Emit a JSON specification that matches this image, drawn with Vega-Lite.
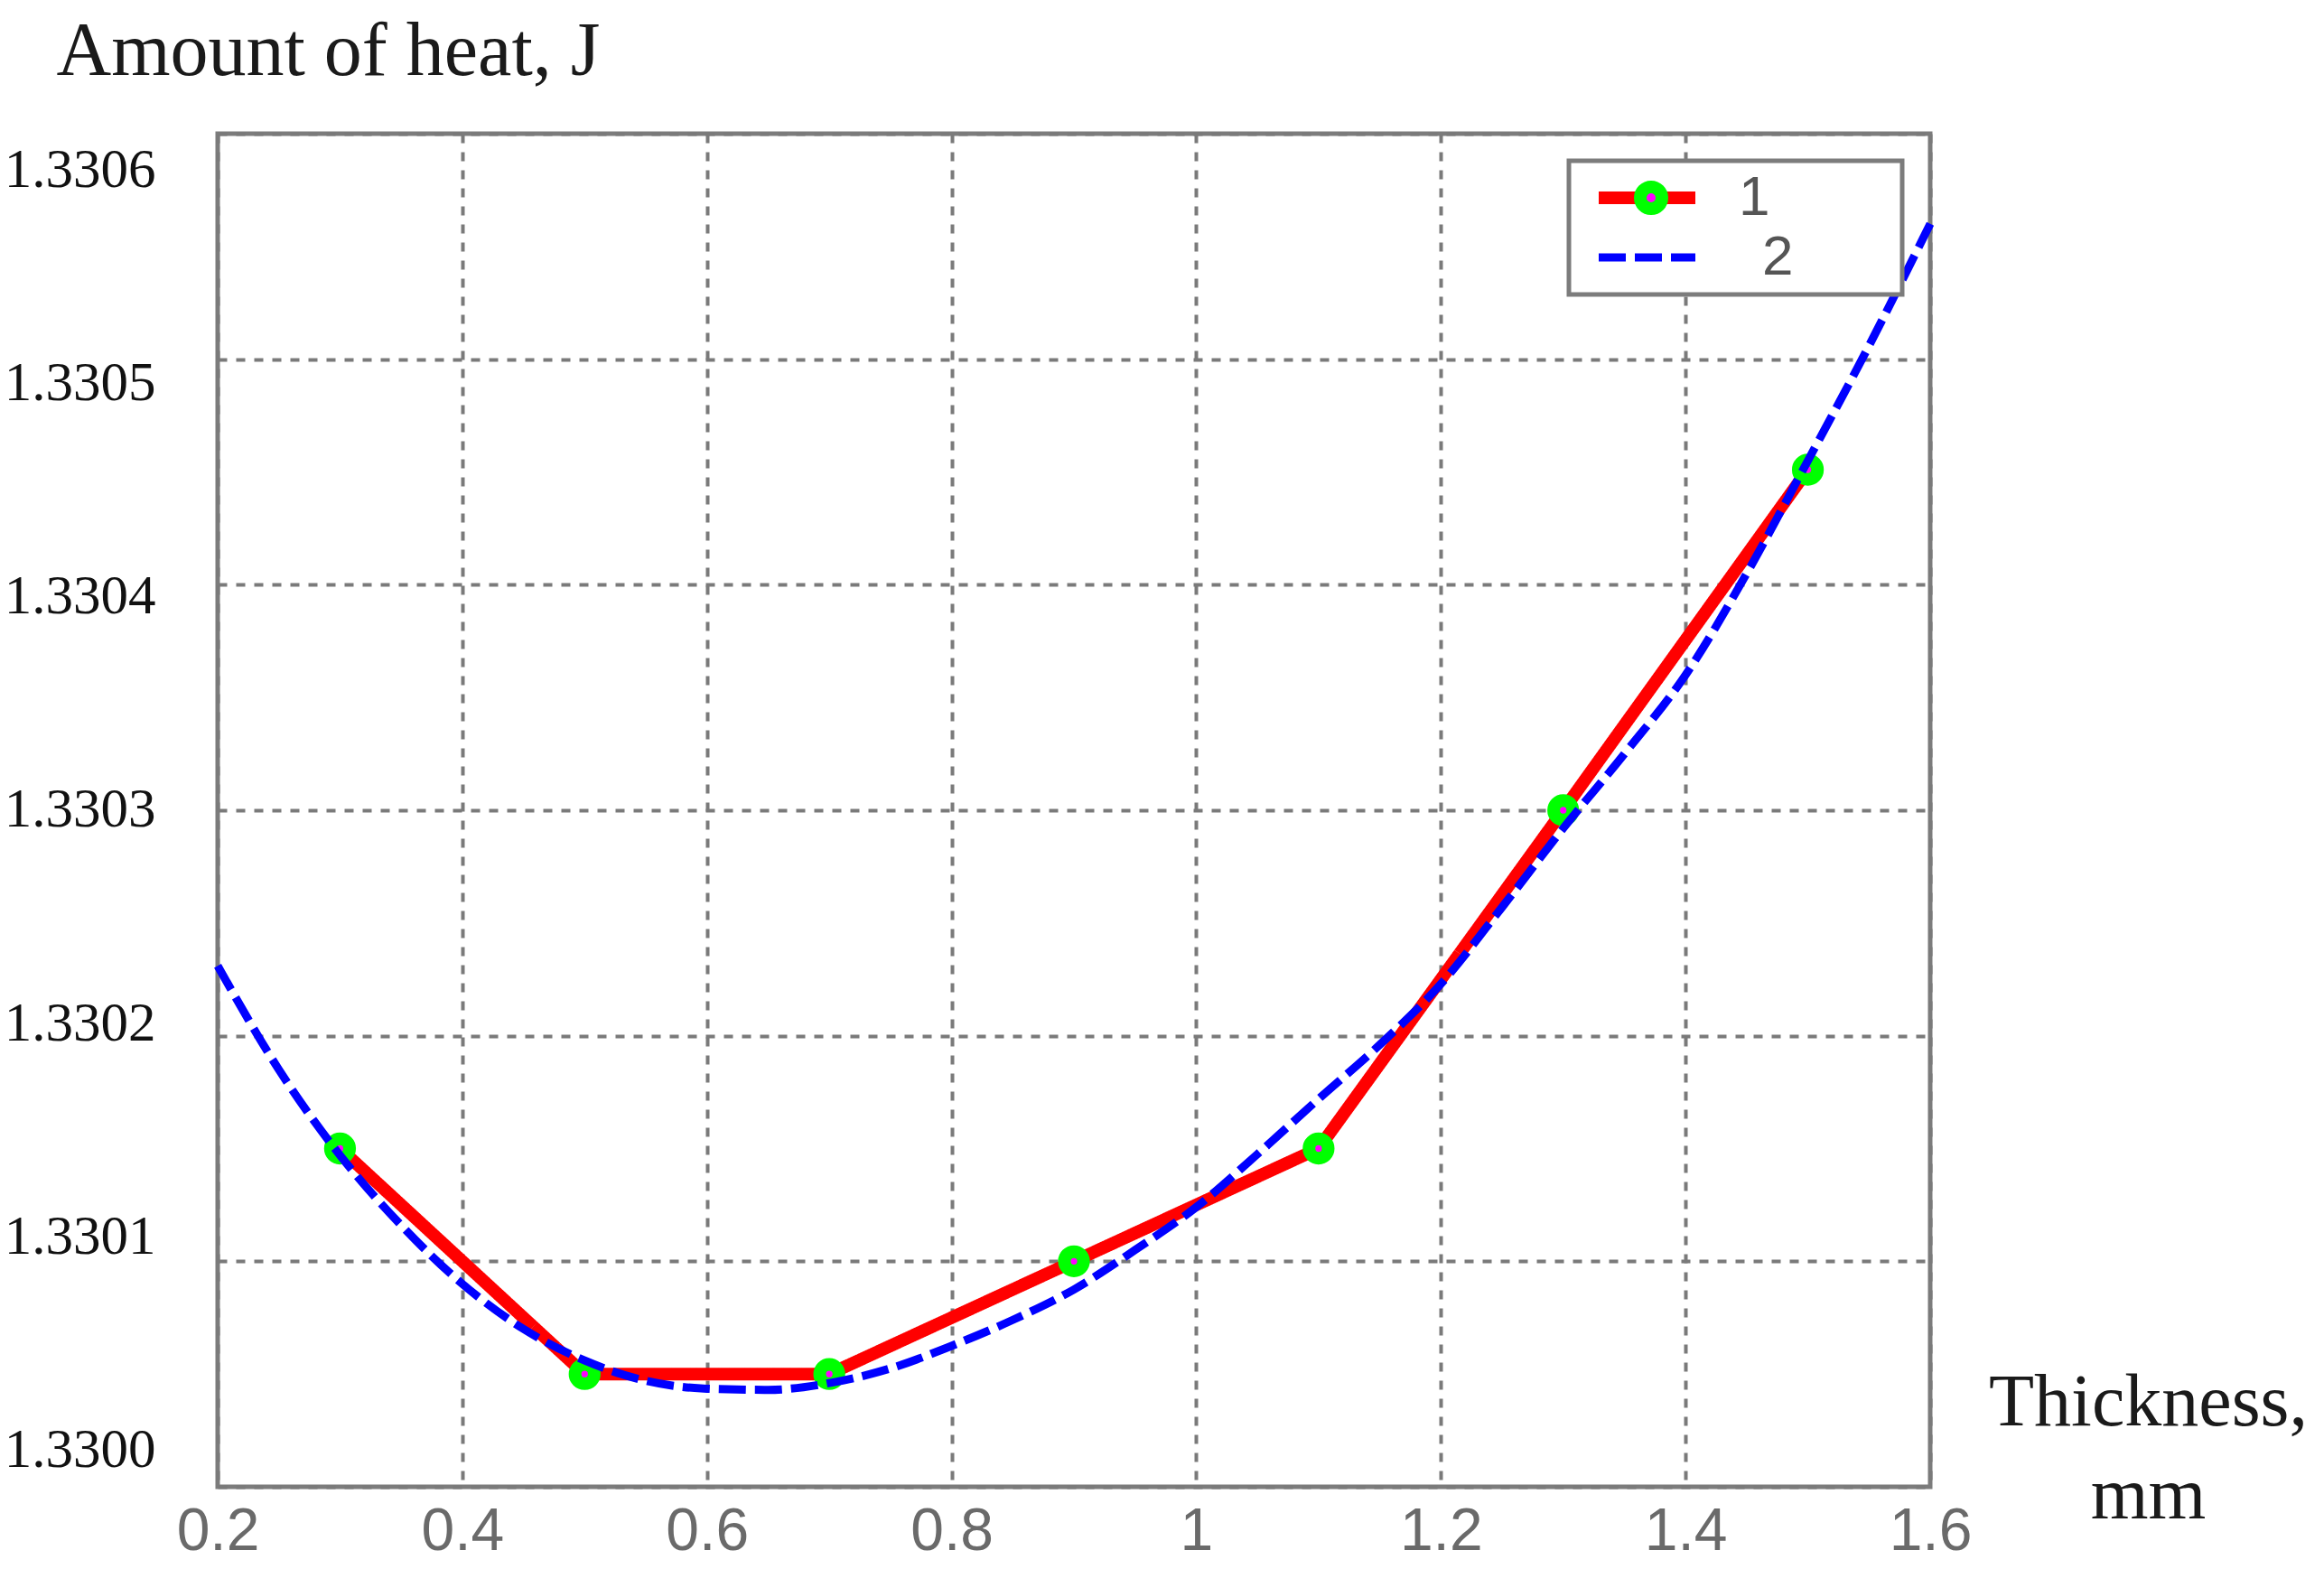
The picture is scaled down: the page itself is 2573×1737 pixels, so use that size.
{
  "$schema": "https://vega.github.io/schema/vega-lite/v6.json",
  "width": 1896,
  "height": 1498,
  "autosize": {"type": "none"},
  "padding": {"left": 241, "top": 148, "right": 436, "bottom": 91},
  "background": "white",
  "config": {
    "view": {"stroke": "#7c7c7c", "strokeWidth": 5}
  },
  "data": {
    "values": [
      {"x": 0.3, "y": 1.33015, "series": "1"},
      {"x": 0.5, "y": 1.33005, "series": "1"},
      {"x": 0.7, "y": 1.33005, "series": "1"},
      {"x": 0.9, "y": 1.3301, "series": "1"},
      {"x": 1.1, "y": 1.33015, "series": "1"},
      {"x": 1.3, "y": 1.3303, "series": "1"},
      {"x": 1.5, "y": 1.330451, "series": "1"},
      {"x": 0.2, "y": 1.330231, "series": "2"},
      {"x": 0.25, "y": 1.330185, "series": "2"},
      {"x": 0.3, "y": 1.330147, "series": "2"},
      {"x": 0.35, "y": 1.330116, "series": "2"},
      {"x": 0.4, "y": 1.33009, "series": "2"},
      {"x": 0.45, "y": 1.33007, "series": "2"},
      {"x": 0.5, "y": 1.330056, "series": "2"},
      {"x": 0.55, "y": 1.330047, "series": "2"},
      {"x": 0.6, "y": 1.3300435, "series": "2"},
      {"x": 0.65, "y": 1.330043, "series": "2"},
      {"x": 0.7, "y": 1.330046, "series": "2"},
      {"x": 0.75, "y": 1.3300525, "series": "2"},
      {"x": 0.8, "y": 1.3300625, "series": "2"},
      {"x": 0.85, "y": 1.330074, "series": "2"},
      {"x": 0.9, "y": 1.3300875, "series": "2"},
      {"x": 0.95, "y": 1.330105, "series": "2"},
      {"x": 1.0, "y": 1.330124, "series": "2"},
      {"x": 1.05, "y": 1.3301475, "series": "2"},
      {"x": 1.1, "y": 1.330172, "series": "2"},
      {"x": 1.15, "y": 1.330196, "series": "2"},
      {"x": 1.2, "y": 1.330223, "series": "2"},
      {"x": 1.25, "y": 1.330257, "series": "2"},
      {"x": 1.3, "y": 1.330292, "series": "2"},
      {"x": 1.35, "y": 1.330325, "series": "2"},
      {"x": 1.4, "y": 1.33036, "series": "2"},
      {"x": 1.45, "y": 1.330405, "series": "2"},
      {"x": 1.5, "y": 1.330455, "series": "2"},
      {"x": 1.55, "y": 1.330506, "series": "2"},
      {"x": 1.6, "y": 1.33056, "series": "2"}
    ]
  },
  "encoding": {
    "x": {
      "field": "x",
      "type": "quantitative",
      "scale": {"domain": [0.2, 1.6], "nice": false, "zero": false},
      "axis": {
        "values": [0.2, 0.4, 0.6, 0.8, 1, 1.2, 1.4, 1.6],
        "format": "~g",
        "domain": false,
        "ticks": false,
        "tickSize": 0,
        "labelFlush": false,
        "labelOverlap": false,
        "labelPadding": 17,
        "labelFont": "'Liberation Sans Narrow', 'Liberation Sans', sans-serif",
        "labelFontSize": 66,
        "labelColor": "#6a6a6a",
        "grid": true,
        "gridColor": "#7a7a7a",
        "gridWidth": 4,
        "gridDash": [10, 10],
        "title": ["Thickness,", "mm"],
        "titleFont": "Liberation Serif",
        "titleFontSize": 82,
        "titleFontWeight": "normal",
        "titleColor": "#1a1a1a",
        "titleAngle": 0,
        "titleAlign": "center",
        "titleBaseline": "alphabetic",
        "titleLineHeight": 103,
        "titleX": 2137,
        "titleY": -69
      }
    },
    "y": {
      "field": "y",
      "type": "quantitative",
      "scale": {"domain": [1.33, 1.3306], "nice": false, "zero": false},
      "axis": {
        "values": [1.33, 1.3301, 1.3302, 1.3303, 1.3304, 1.3305, 1.3306],
        "format": ".4f",
        "domain": false,
        "ticks": false,
        "tickSize": 0,
        "labelOverlap": false,
        "labelPadding": 69,
        "labelAlign": "right",
        "labelBaseline": "middle",
        "labelOffset": {"expr": "40 - 134000 * (1.3306 - datum.value)"},
        "labelFont": "Liberation Serif",
        "labelFontSize": 61,
        "labelColor": "#111111",
        "grid": true,
        "gridColor": "#7a7a7a",
        "gridWidth": 4,
        "gridDash": [10, 10],
        "title": "Amount of heat, J",
        "titleFont": "Liberation Serif",
        "titleFontSize": 84,
        "titleFontWeight": "normal",
        "titleColor": "#1a1a1a",
        "titleAngle": 0,
        "titleAlign": "left",
        "titleBaseline": "alphabetic",
        "titleX": -179,
        "titleY": -66
      }
    }
  },
  "layer": [
    {
      "transform": [{"filter": "datum.series == '1'"}],
      "mark": {"type": "line", "interpolate": "linear"},
      "encoding": {
        "stroke": {
          "field": "series", "type": "nominal",
          "scale": {"domain": ["1", "2"], "range": ["#ff0000", "#0000ff"]},
          "legend": {"title": null, "orient": "none", "legendX": 1496, "legendY": 30, "zindex": 1, "symbolType": "M-0.8,0H9.9M29,0", "symbolSize": 400, "labelOffset": 116, "padding": 10, "rowPadding": 4, "strokeColor": "#7c7c7c", "fillColor": "white", "labelFontSize": 62, "labelFont": "Liberation Sans", "labelColor": "#555555", "encode": {"legend": {"update": {"strokeWidth": {"value": 5}}}, "labels": {"update": {"dx": {"signal": "datum.value == '2' ? 26 : 0"}}}}}
        },
        "strokeDash": {
          "field": "series", "type": "nominal",
          "scale": {"domain": ["1", "2"], "range": [[1, 0], [30, 10]]},
          "legend": {"title": null, "orient": "none", "legendX": 1496, "legendY": 30, "zindex": 1, "symbolType": "M-0.8,0H9.9M29,0", "symbolSize": 400, "labelOffset": 116, "padding": 10, "rowPadding": 4, "strokeColor": "#7c7c7c", "fillColor": "white", "labelFontSize": 62, "labelFont": "Liberation Sans", "labelColor": "#555555", "encode": {"legend": {"update": {"strokeWidth": {"value": 5}}}, "labels": {"update": {"dx": {"signal": "datum.value == '2' ? 26 : 0"}}}}}
        },
        "strokeWidth": {
          "field": "series", "type": "ordinal",
          "scale": {"type": "ordinal", "domain": ["1", "2"], "range": [14, 9]},
          "legend": {"title": null, "orient": "none", "legendX": 1496, "legendY": 30, "zindex": 1, "symbolType": "M-0.8,0H9.9M29,0", "symbolSize": 400, "labelOffset": 116, "padding": 10, "rowPadding": 4, "strokeColor": "#7c7c7c", "fillColor": "white", "labelFontSize": 62, "labelFont": "Liberation Sans", "labelColor": "#555555", "encode": {"legend": {"update": {"strokeWidth": {"value": 5}}}, "labels": {"update": {"dx": {"signal": "datum.value == '2' ? 26 : 0"}}}}}
        }
      }
    },
    {
      "transform": [{"filter": "datum.series == '1'"}],
      "mark": {"type": "point", "shape": "circle", "filled": true, "size": 452, "stroke": "#00ff00", "strokeWidth": 14, "opacity": 1},
      "encoding": {
        "fill": {
          "field": "series", "type": "nominal",
          "scale": {"domain": ["1"], "range": ["#ff00ff"]},
          "legend": {"title": null, "orient": "none", "legendX": 1496, "legendY": 30, "zindex": 2, "symbolType": "M6.2,0A1.2,1.2,0,1,1,3.8,0A1.2,1.2,0,1,1,6.2,0Z", "symbolSize": 400, "symbolStrokeColor": "#00ff00", "symbolStrokeWidth": 14, "symbolOpacity": 1, "labelOffset": 116, "padding": 10, "labelFontSize": 62, "labelFont": "Liberation Sans", "labelOpacity": 0, "strokeColor": "transparent", "fillColor": "transparent"}
        }
      }
    },
    {
      "transform": [{"filter": "datum.series == '2'"}],
      "mark": {"type": "line", "interpolate": "monotone"},
      "encoding": {
        "stroke": {
          "field": "series", "type": "nominal",
          "scale": {"domain": ["1", "2"], "range": ["#ff0000", "#0000ff"]},
          "legend": {"title": null, "orient": "none", "legendX": 1496, "legendY": 30, "zindex": 1, "symbolType": "M-0.8,0H9.9M29,0", "symbolSize": 400, "labelOffset": 116, "padding": 10, "rowPadding": 4, "strokeColor": "#7c7c7c", "fillColor": "white", "labelFontSize": 62, "labelFont": "Liberation Sans", "labelColor": "#555555", "encode": {"legend": {"update": {"strokeWidth": {"value": 5}}}, "labels": {"update": {"dx": {"signal": "datum.value == '2' ? 26 : 0"}}}}}
        },
        "strokeDash": {
          "field": "series", "type": "nominal",
          "scale": {"domain": ["1", "2"], "range": [[1, 0], [30, 10]]},
          "legend": {"title": null, "orient": "none", "legendX": 1496, "legendY": 30, "zindex": 1, "symbolType": "M-0.8,0H9.9M29,0", "symbolSize": 400, "labelOffset": 116, "padding": 10, "rowPadding": 4, "strokeColor": "#7c7c7c", "fillColor": "white", "labelFontSize": 62, "labelFont": "Liberation Sans", "labelColor": "#555555", "encode": {"legend": {"update": {"strokeWidth": {"value": 5}}}, "labels": {"update": {"dx": {"signal": "datum.value == '2' ? 26 : 0"}}}}}
        },
        "strokeWidth": {
          "field": "series", "type": "ordinal",
          "scale": {"type": "ordinal", "domain": ["1", "2"], "range": [14, 9]},
          "legend": {"title": null, "orient": "none", "legendX": 1496, "legendY": 30, "zindex": 1, "symbolType": "M-0.8,0H9.9M29,0", "symbolSize": 400, "labelOffset": 116, "padding": 10, "rowPadding": 4, "strokeColor": "#7c7c7c", "fillColor": "white", "labelFontSize": 62, "labelFont": "Liberation Sans", "labelColor": "#555555", "encode": {"legend": {"update": {"strokeWidth": {"value": 5}}}, "labels": {"update": {"dx": {"signal": "datum.value == '2' ? 26 : 0"}}}}}
        }
      }
    }
  ]
}
